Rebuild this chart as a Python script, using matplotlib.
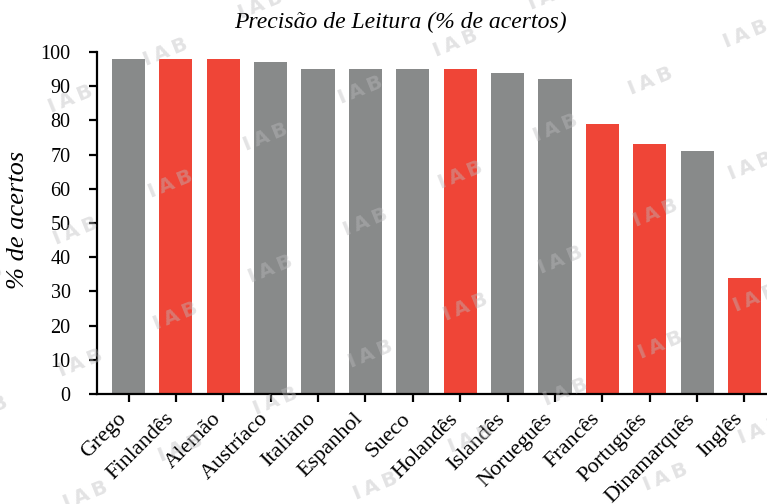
import numpy as np
import matplotlib
matplotlib.use("Agg")
import matplotlib.pyplot as plt
import matplotlib.transforms as mtransforms

# dados
idiomas = ["Grego", "Finlandês", "Alemão", "Austríaco", "Italiano", "Espanhol",
           "Sueco", "Holandês", "Islandês", "Norueguês", "Francês", "Português",
           "Dinamarquês", "Inglês"]
acertos = [98, 98, 98, 97, 95, 95, 95, 95, 94, 92, 79, 73, 71, 34]
destaque = [False, True, True, False, False, False, False, True, False, False,
            True, True, False, True]
yticks = [0, 10, 20, 30, 40, 50, 60, 70, 80, 90, 100]

GRAY = "#888a8a"
RED = "#ef4537"
SERIF = ["Liberation Serif", "DejaVu Serif"]

plt.rcParams['font.family'] = SERIF

W, H = 767, 504
fig = plt.figure(figsize=(W / 100, H / 100), dpi=100)
ax = fig.add_axes([97 / W, (H - 394) / H, (W - 97) / W, (394 - 52) / H])

x = np.arange(len(idiomas))
cores = [RED if d else GRAY for d in destaque]
ax.bar(x, acertos, width=0.70, color=cores, zorder=2)

ax.set_xlim(-0.665, 13.475)
ax.set_ylim(0, 100)
ax.set_yticks(yticks)
ax.set_yticklabels([str(v) for v in yticks], fontsize=14.5)
ax.set_xticks(x)
ax.set_xticklabels(idiomas, fontsize=16, rotation=45, ha="right",
                   va="center", rotation_mode="anchor")

for s in ["top", "right"]:
    ax.spines[s].set_visible(False)
for s in ["left", "bottom"]:
    ax.spines[s].set_linewidth(1.6)
ax.tick_params(axis="both", length=5.5, width=1.6, color="black")
ax.tick_params(axis="y", pad=13.5)
ax.tick_params(axis="x", pad=4)

# desloca os rótulos do eixo x um pouco para baixo e para a esquerda
offset = mtransforms.ScaledTranslation(-5 / 100, -9 / 100, fig.dpi_scale_trans)
for lab in ax.get_xticklabels():
    lab.set_transform(lab.get_transform() + offset)

fig.text(400 / W, 1 - 28 / H, "Precisão de Leitura (% de acertos)",
         ha="center", va="baseline", fontsize=17, style="italic")
fig.text(18 / W, 1 - 220 / H, "% de acertos", rotation=90,
         ha="center", va="center", fontsize=19, style="italic")

# marca d'água em grade
for i in range(-3, 9):
    for j in range(-7, 8):
        cx = 165 + 100 * i - 95 * j
        cy = 52 + 85 * i + 47 * j
        if -40 < cx < W + 40 and -30 < cy < H + 30:
            fig.text(cx / W, 1 - cy / H, "I\u2009A\u2009B", ha="center",
                     va="center", rotation=22, fontsize=14.5,
                     fontweight="bold", family="DejaVu Sans",
                     color="#bcbcbe", alpha=0.42, zorder=10)

fig.savefig("out.png", dpi=100)
